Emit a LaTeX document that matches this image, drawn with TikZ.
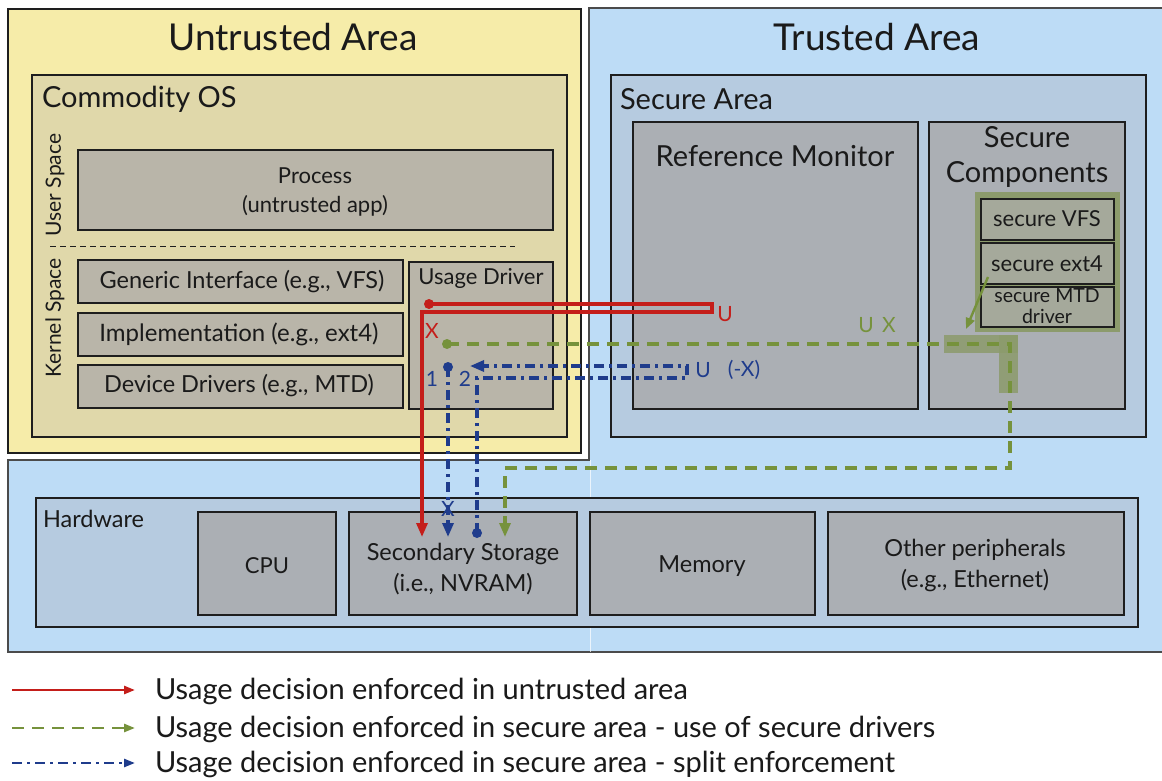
\documentclass[tikz,border=0pt]{standalone}
\usepackage{fontspec}
\setmainfont{Lato}
\usetikzlibrary{arrows.meta}
\definecolor{untrusty}{HTML}{F6ECA9}
\definecolor{commod}{HTML}{E0D8AA}
\definecolor{kbox}{HTML}{B9B5A9}
\definecolor{trustb}{HTML}{BDDCF6}
\definecolor{secb}{HTML}{B6CBE0}
\definecolor{gbox}{HTML}{ABAFB4}
\definecolor{ghl}{HTML}{8C9B6C}
\definecolor{sgbox}{HTML}{A5A99B}
\definecolor{edge}{HTML}{1E1E1E}
\definecolor{txt}{HTML}{1A1A1A}
\definecolor{cred}{HTML}{C41E1A}
\definecolor{cgreen}{HTML}{76923C}
\definecolor{cblue}{HTML}{1F3C8C}
\newcommand\myfs[1]{\fontsize{#1}{#1}\selectfont}
\begin{document}
\begin{tikzpicture}[x=1pt,y=-1pt,
  every node/.style={inner sep=0pt,outer sep=0pt,text=txt},
  bx/.style={draw=edge,line width=1.2pt,anchor=north west,inner sep=0pt},
  title/.style={font=\myfs{37}},
  sect/.style={font=\myfs{29}},
  btxt/.style={font=\myfs{23.5}},
  stxt/.style={font=\myfs{22}},
  lbl/.style={font=\myfs{21}},
  legtxt/.style={font=\myfs{29},anchor=west},
  redline/.style={draw=cred,line width=3.2pt},
  greenline/.style={draw=cgreen,line width=3.2pt,dash pattern=on 12pt off 8pt},
  blueline/.style={draw=cblue,line width=3.2pt,dash pattern=on 10pt off 5pt on 3pt off 5pt},
  tipbig/.style={-{Triangle[length=14pt,width=11pt]}},
  tipleg/.style={-{Triangle[length=11pt,width=8pt]}},
  dotnode/.style={circle,minimum size=10pt,inner sep=0pt}
]
\useasboundingbox (0,0) rectangle (1162,781);
\fill[white] (0,0) rectangle (1162,781);
% trusted area (L shape)
\draw[fill=trustb,draw=edge!80,line width=1.2pt] (589,8) -- (1168,8) -- (1168,652) -- (8,652) -- (8,460) -- (589,460) -- cycle;
\node[title] (trustedT) at (877,37) {Trusted Area};
% untrusted area
\node[bx,fill=untrusty,minimum width=573pt,minimum height=444pt] (untrusted) at (8,9) {};
\node[title] (untrustedT) at (293,37) {Untrusted Area};
\node[bx,fill=commod,minimum width=535pt,minimum height=362pt] (commodity) at (32,75) {};
\node[sect,anchor=west] (commodityT) at (42,99) {Commodity OS};
\node[font=\myfs{21},rotate=90] (userT) at (55,185) {User Space};
\node[font=\myfs{21},rotate=90] (kernelT) at (55,318) {Kernel Space};
\node[bx,fill=kbox,minimum width=475pt,minimum height=80pt] (process) at (78,150) {};
\node[font=\myfs{22}] (processT) at (315,176) {Process};
\node[stxt] (processS) at (315,206) {(untrusted app)};
\coordinate (dl) at (50,246);
\coordinate (dr) at (515,246);
\draw[edge,line width=0.9pt,dash pattern=on 6pt off 4pt] (dl) -- (dr);
\node[bx,fill=kbox,minimum width=325pt,minimum height=43pt] (generic) at (78,260) {};
\node[btxt] (genericT) at (242,282) {Generic Interface (e.g., VFS)};
\node[bx,fill=kbox,minimum width=325pt,minimum height=43pt] (impl) at (78,313) {};
\node[font=\myfs{24}] (implT) at (239,334) {Implementation (e.g., ext4)};
\node[bx,fill=kbox,minimum width=325pt,minimum height=43pt] (device) at (78,365) {};
\node[btxt] (deviceT) at (239,386) {Device Drivers (e.g., MTD)};
\node[bx,fill=kbox,minimum width=144pt,minimum height=147pt] (usage) at (409,262) {};
\node[stxt] (usageT) at (481,278) {Usage Driver};
% secure area
\node[bx,fill=secb,minimum width=535pt,minimum height=362pt] (secure) at (611,75) {};
\node[sect,anchor=west] (secureT) at (620,99) {Secure Area};
\node[bx,fill=gbox,minimum width=285pt,minimum height=287pt] (refmon) at (633,122) {};
\node[sect] (refmonT) at (775,156) {Reference Monitor};
\node[bx,fill=gbox,minimum width=196pt,minimum height=287pt] (seccomp) at (929,122) {};
\node[sect] (seccompT1) at (1027,137) {Secure};
\node[sect] (seccompT2) at (1027,174) {Components};
\node[fill=ghl,anchor=north west,minimum width=145pt,minimum height=140pt] (ghlbox) at (975,192) {};
\node[bx,fill=sgbox,minimum width=133pt,minimum height=41pt] (svfs) at (981,199) {};
\node[stxt] (svfsT) at (1047,219) {secure VFS};
\node[bx,fill=sgbox,minimum width=133pt,minimum height=41pt] (sext) at (981,243) {};
\node[stxt] (sextT) at (1047,264) {secure ext4};
\node[bx,fill=sgbox,minimum width=133pt,minimum height=40pt] (smtd) at (981,287) {};
\node[font=\myfs{19.5}] (smtdT1) at (1047,296) {secure MTD};
\node[font=\myfs{19.5}] (smtdT2) at (1047,316) {driver};
% green highlighted corner
\node[fill=ghl,opacity=0.85,anchor=north west,minimum width=74pt,minimum height=18pt] (gband1) at (944,335) {};
\node[fill=ghl,opacity=0.85,anchor=north west,minimum width=19pt,minimum height=58pt] (gband2) at (999,335) {};
% hardware
\draw[white,opacity=0.7,line width=0.8pt] (590,460) -- (590,652);
\node[bx,fill=secb,minimum width=1102pt,minimum height=129pt] (hardware) at (36,498) {};
\node[btxt,anchor=west] (hardwareT) at (43,519) {Hardware};
\node[bx,fill=gbox,minimum width=138pt,minimum height=103pt] (cpu) at (198,512) {};
\node[font=\myfs{22}] (cpuT) at (267,566) {CPU};
\node[bx,fill=gbox,minimum width=228pt,minimum height=103pt] (storage) at (349,512) {};
\node[btxt] (storageT1) at (463,554) {Secondary Storage};
\node[btxt] (storageT2) at (463,584) {(i.e., NVRAM)};
\node[bx,fill=gbox,minimum width=225pt,minimum height=103pt] (memory) at (590,512) {};
\node[btxt] (memoryT) at (702,566) {Memory};
\node[bx,fill=gbox,minimum width=296pt,minimum height=103pt] (other) at (828,512) {};
\node[btxt] (otherT1) at (975,550) {Other peripherals};
\node[btxt] (otherT2) at (975,581) {(e.g., Ethernet)};
% red flow
\node[dotnode,fill=cred] (rdot) at (429,304) {};
\coordinate (r1) at (712,304);
\coordinate (r2) at (712,312);
\coordinate (r3) at (422,312);
\coordinate (rend) at (422,537);
\draw[redline,tipbig] (rdot.center) -- (r1) -- (r2) -- (r3) -- (rend);
\node[lbl,text=cred] (rU) at (725,314) {U};
\node[lbl,text=cred] (rX) at (432,331) {X};
% green flow
\node[dotnode,fill=cgreen] (gdot) at (447,344) {};
\coordinate (g1) at (1010,344);
\coordinate (g2) at (1010,468);
\coordinate (g3) at (505,468);
\coordinate (gend) at (505,537);
\draw[greenline,tipbig] (gdot.center) -- (g1) -- (g2) -- (g3) -- (gend);
\node[lbl,text=cgreen] (gU) at (866,325) {U};
\node[lbl,text=cgreen] (gX) at (889,325) {X};
\coordinate (ga1) at (988,277);
\coordinate (ga2) at (966,329);
\draw[draw=cgreen,line width=2.4pt,-{Triangle[length=11pt,width=9pt]}] (ga1) -- (ga2);
% blue flows
\node[dotnode,fill=cblue] (bdot1) at (448,367) {};
\coordinate (b1end) at (448,537);
\draw[blueline,tipbig] (bdot1.center) -- (b1end);
\node[font=\myfs{21},text=cblue] (bX) at (448,509) {X};
\node[dotnode,fill=cblue] (bdot2) at (477,533) {};
\coordinate (b21) at (477,378);
\coordinate (b22) at (687,378);
\coordinate (b23) at (687,366);
\coordinate (b24) at (470,366);
\draw[blueline,tipbig] (bdot2.center) -- (b21) -- (b22) -- (b23) -- (b24);
\node[lbl,text=cblue] (b1T) at (432,379) {1};
\node[lbl,text=cblue] (b2T) at (465,379) {2};
\node[lbl,text=cblue] (bU) at (703,370) {U};
\node[lbl,text=cblue] (bXm) at (744,370) {(-X)};
% legend
\coordinate (l1a) at (12,690); \coordinate (l1b) at (135,690);
\coordinate (l2a) at (12,728); \coordinate (l2b) at (135,728);
\coordinate (l3a) at (12,763); \coordinate (l3b) at (135,763);
\draw[redline,line width=2.6pt,tipleg] (l1a) -- (l1b);
\draw[greenline,line width=2.6pt,tipleg] (l2a) -- (l2b);
\draw[blueline,line width=2.6pt,tipleg] (l3a) -- (l3b);
\node[legtxt] (leg1) at (155,691) {Usage decision enforced in untrusted area};
\node[legtxt] (leg2) at (155,729) {Usage decision enforced in secure area - use of secure drivers};
\node[legtxt] (leg3) at (155,764) {Usage decision enforced in secure area - split enforcement};
\end{tikzpicture}
\end{document}
